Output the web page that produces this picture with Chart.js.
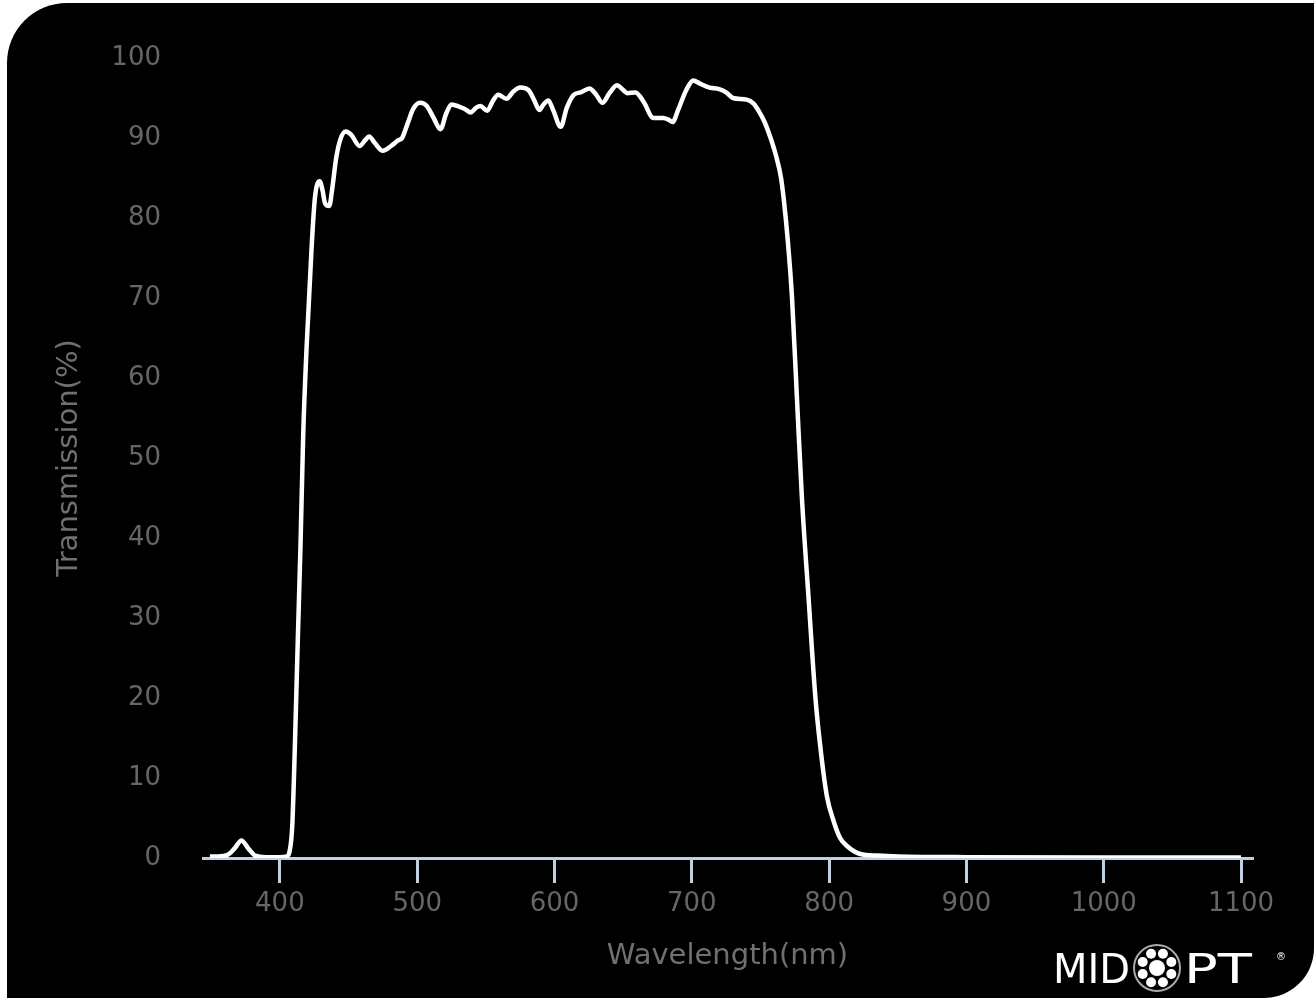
<!DOCTYPE html>
<html>
<head>
<meta charset="utf-8">
<script src="https://cdn.jsdelivr.net/npm/chart.js@4.4.1/dist/chart.umd.min.js"></script>
<style>
  html, body { margin: 0; padding: 0; background: #fff; }
  #frame {
    position: absolute; left: 7px; top: 3px; width: 1307px; height: 995px;
    background: #000; border-radius: 60px 0 50px 0;
  }
  #chart { position: absolute; left: 0; top: 0; }
</style>
</head>
<body>
<div id="frame"></div>
<canvas id="chart" width="1314" height="998"></canvas>
<script>
// spectrum (nm, %)
const wavelengths = [
  349, 355, 362, 367, 372, 377, 382, 390, 400, 405, 407, 409, 411, 413, 415, 417,
  419.5, 423, 425.5, 429, 431, 433, 436, 438, 441, 444, 448, 452, 458, 462, 465,
  469, 475, 481, 486, 489, 493, 497, 502, 507, 512, 517, 521, 525, 531, 535, 539,
  543, 546, 551, 555, 559, 565, 570, 575, 581, 585, 589, 592, 595.5, 599, 604.5,
  609, 614, 619, 625.5, 630, 635, 640, 645.5, 650, 653, 659, 665, 672, 679, 683,
  686, 690, 696, 701, 706, 713, 720, 725, 730, 740, 745, 749, 753, 757, 761, 765,
  767, 770, 773, 776.6, 780.2, 785, 790, 793.6, 798.4, 803.3, 808, 813, 822.7,
  835, 850, 900, 1000, 1100,
];
const transmission = [
  0.2, 0.2, 0.4, 1.2, 2.2, 1.2, 0.3, 0.1, 0.1, 0.2, 0.8, 4, 14.5, 27, 39, 53,
  64, 76, 82.5, 84.6, 83.5, 81.8, 81.5, 83.5, 87.5, 89.8, 90.8, 90.4, 89, 89.7, 90.2,
  89.4, 88.4, 89, 89.7, 90, 91.8, 93.6, 94.4, 94, 92.5, 91.1, 93, 94.2, 93.9, 93.6, 93.2,
  93.8, 94, 93.4, 94.6, 95.4, 94.9, 95.8, 96.3, 96, 94.8, 93.5, 94.2, 94.7, 93.5, 91.4,
  93.8, 95.4, 95.7, 96.2, 95.5, 94.4, 95.6, 96.6, 96, 95.6, 95.7, 94.5, 92.5, 92.5, 92.3,
  92, 93.5, 96, 97.2, 96.8, 96.3, 96.1, 95.7, 95, 94.8, 94.3, 93.3, 92, 90.2, 88, 85,
  82.3, 77, 70, 57.4, 45, 32.6, 20.1, 13.9, 7.7, 4.6, 2.5, 1.5, 0.5,
  0.3, 0.2, 0.1, 0.05, 0.05,
];
const xTicks = [400, 500, 600, 700, 800, 900, 1000, 1100];
const yTicks = [0, 10, 20, 30, 40, 50, 60, 70, 80, 90, 100];

const axisColor = '#C0D0E0';
const labelFont = { family: 'DejaVu Sans', size: 26 };
const titleFont = { family: 'DejaVu Sans', size: 29 };

// logo in the bottom right corner
const midoptLogo = {
  id: 'midoptLogo',
  afterDraw(chart) {
    const { ctx } = chart;
    ctx.save();
    ctx.fillStyle = '#fff';
    ctx.textBaseline = 'alphabetic';
    ctx.font = '40px "DejaVu Sans"';
    ctx.fillText('MID', 1053, 983);
    ctx.save();
    ctx.translate(1184, 983);
    ctx.scale(1.4, 1);
    ctx.fillText('PT', 0, 0);
    ctx.restore();
    ctx.font = '10px "DejaVu Sans"';
    ctx.fillText('®', 1276, 960);
    // ring of circles
    const cx = 1157;
    const cy = 968;
    ctx.strokeStyle = '#aaa';
    ctx.lineWidth = 2;
    ctx.beginPath();
    ctx.arc(cx, cy, 23, 0, Math.PI * 2);
    ctx.stroke();
    ctx.beginPath();
    ctx.arc(cx, cy, 8, 0, Math.PI * 2);
    ctx.fill();
    for (let i = 0; i < 8; i += 1) {
      const a = (i * Math.PI) / 4 + Math.PI / 8;
      ctx.beginPath();
      ctx.arc(cx + Math.cos(a) * 15.5, cy + Math.sin(a) * 15.5, 5, 0, Math.PI * 2);
      ctx.fill();
    }
    ctx.restore();
  },
};

new Chart(document.getElementById('chart').getContext('2d'), {
  type: 'line',
  data: {
    datasets: [{
      data: wavelengths.map((w, i) => ({ x: w, y: transmission[i] })),
      borderColor: '#fff',
      borderWidth: 4.5,
      pointRadius: 0,
      tension: 0.4,
      cubicInterpolationMode: 'monotone',
      fill: false,
    }],
  },
  options: {
    responsive: false,
    animation: false,
    devicePixelRatio: 1,
    layout: {
      padding: { left: 0, top: 58, right: 62, bottom: 0 },
    },
    scales: {
      x: {
        type: 'linear',
        min: 344,
        max: 1108,
        afterBuildTicks: (scale) => {
          scale.ticks = xTicks.map((v) => ({ value: v }));
        },
        afterFit: (scale) => {
          scale.height = 140;
        },
        border: { display: true, color: axisColor, width: 3 },
        grid: {
          drawOnChartArea: false,
          drawTicks: true,
          tickLength: 25,
          color: axisColor,
          lineWidth: 3,
        },
        ticks: {
          color: '#666',
          font: labelFont,
          padding: 6,
          maxRotation: 0,
          callback: (value) => String(value),
        },
        title: {
          display: true,
          text: 'Wavelength(nm)',
          color: '#707070',
          font: titleFont,
          padding: { top: 0, bottom: 24 },
        },
      },
      y: {
        min: 0,
        max: 100,
        afterBuildTicks: (scale) => {
          scale.ticks = yTicks.map((v) => ({ value: v }));
        },
        afterFit: (scale) => {
          scale.width = 203;
        },
        border: { display: false },
        grid: { display: false, drawTicks: false },
        ticks: {
          color: '#666',
          font: labelFont,
          padding: 42,
          callback: (value) => String(value),
        },
        title: {
          display: true,
          text: 'Transmission(%)',
          color: '#707070',
          font: titleFont,
          padding: { top: 52, bottom: 0 },
        },
      },
    },
    plugins: {
      legend: { display: false },
      tooltip: { enabled: false },
    },
  },
  plugins: [midoptLogo],
});
</script>
</body>
</html>
